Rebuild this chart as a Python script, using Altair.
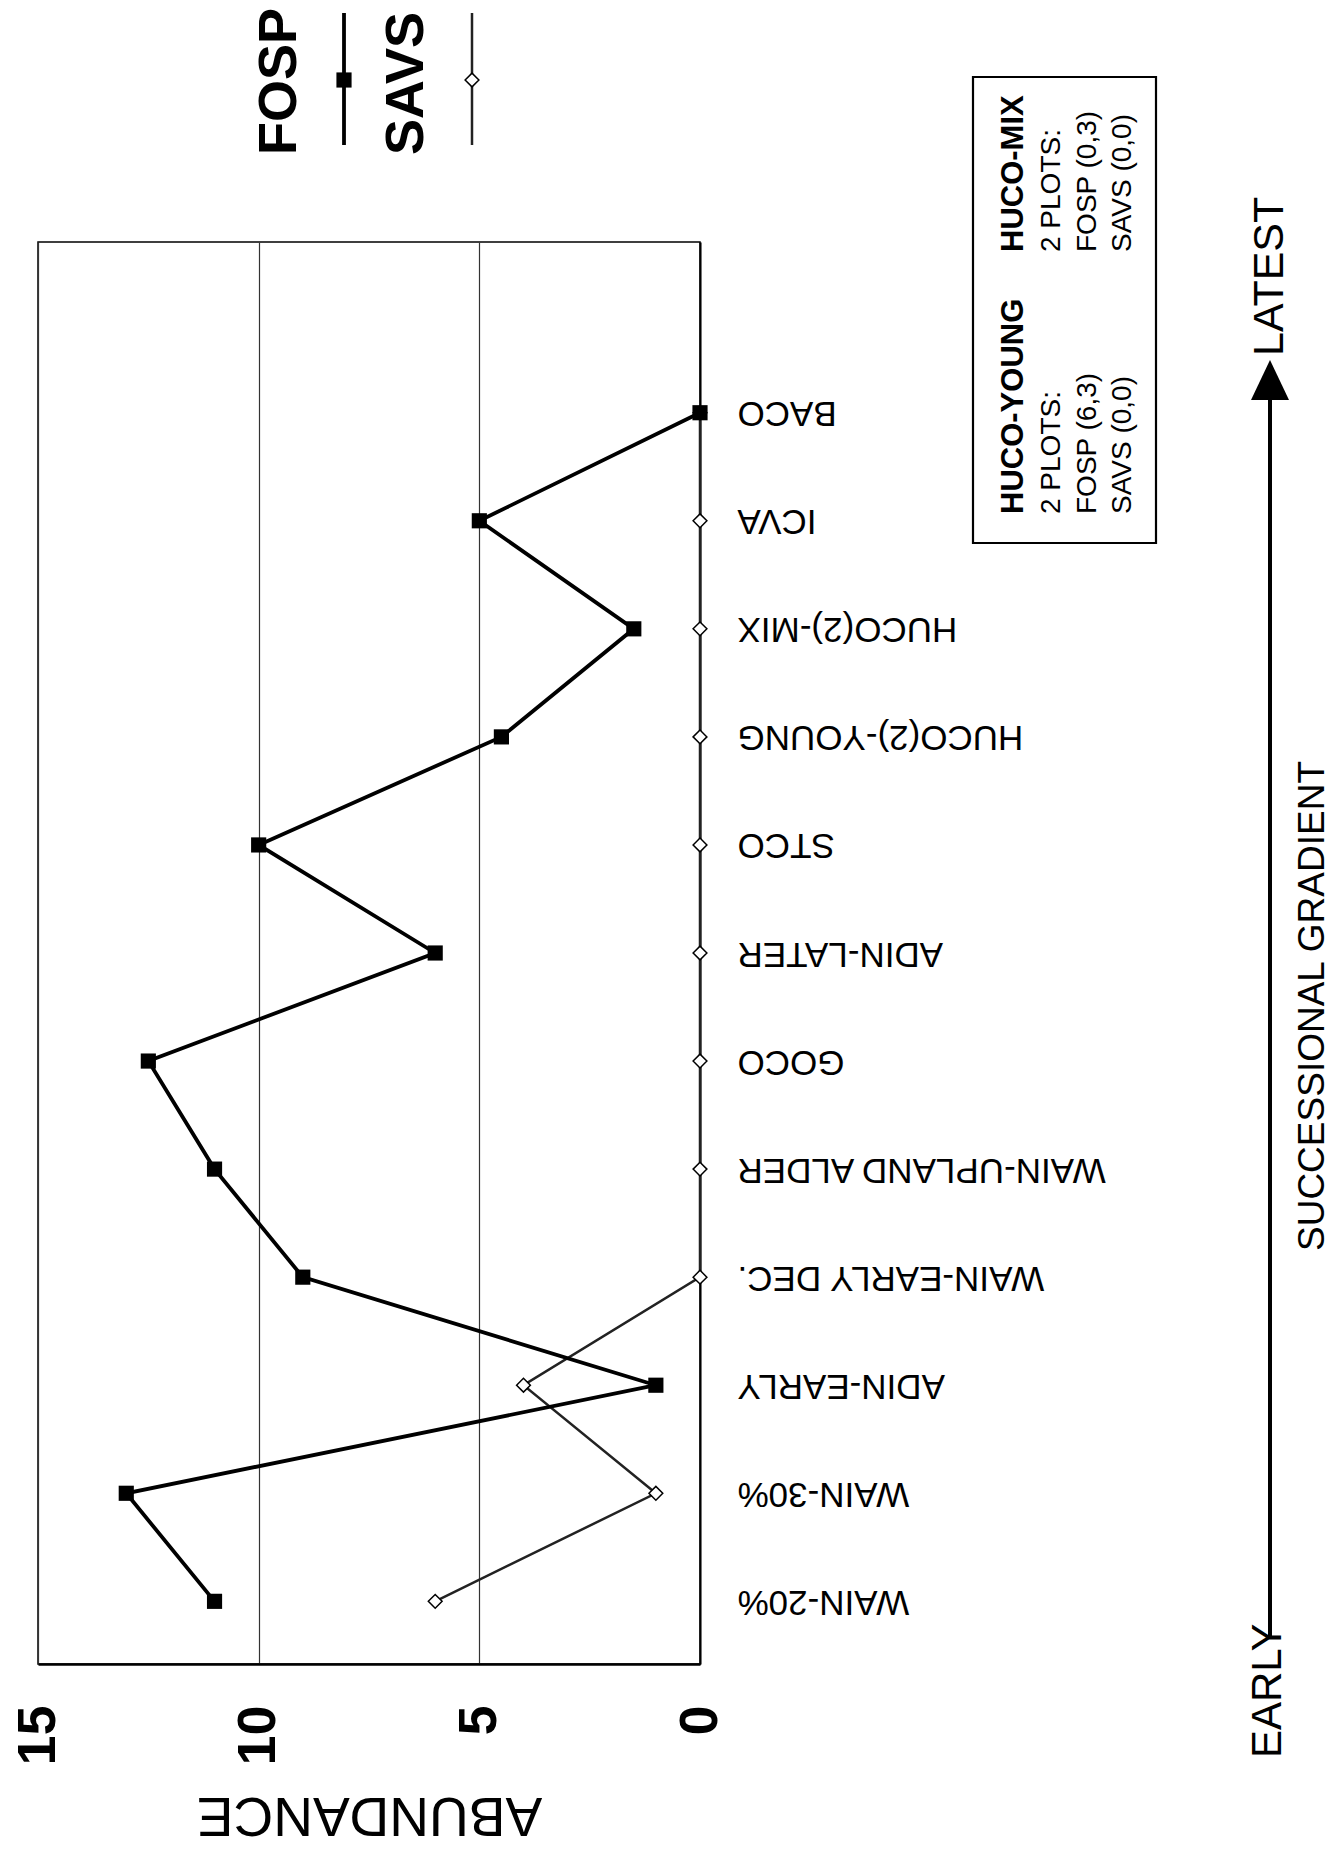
import altair as alt
import pandas as pd

# ---------------- data ----------------
categories = ["WAIN-20%", "WAIN-30%", "ADIN-EARLY", "WAIN-EARLY DEC.",
              "WAIN-UPLAND ALDER", "GOCO", "ADIN-LATER", "STCO",
              "HUCO(2)-YOUNG", "HUCO(2)-MIX", "ICVA", "BACO"]
fosp = [11, 13, 1, 9, 11, 12.5, 6, 10, 4.5, 1.5, 5, 0]
savs = [6, 1, 4, 0, 0, 0, 0, 0, 0, 0, 0, 0]
abundance_ticks = [0, 5, 10, 15]
box_young = ["HUCO-YOUNG", "2 PLOTS:", "FOSP (6,3)", "SAVS (0,0)"]
box_mix = ["HUCO-MIX", "2 PLOTS:", "FOSP (0,3)", "SAVS (0,0)"]

# ---------------- layout ----------------
W, H = 1339, 1850
PL, PT, PW, PH = 38, 242, 662, 1422
FONT = "Liberation Sans"
NARROW = "Liberation Sans Narrow, Liberation Sans, Arial"


def px(X):
    return X - PL


def py(Y):
    return Y - PT


one = alt.Data(values=[{"a": 1}])

df_f = pd.DataFrame({"site": categories, "abundance": fosp, "idx": list(range(len(categories)))})
df_s = pd.DataFrame({"site": categories, "abundance": savs, "idx": list(range(len(categories)))})

y_domain = [" "] + categories[::-1]

x_enc = alt.X(
    "abundance:Q",
    scale=alt.Scale(domain=[0, 15], reverse=True, nice=False, zero=True),
    axis=alt.Axis(
        orient="bottom", values=abundance_ticks, format="d",
        labelAngle=270, labelAlign="right", labelBaseline="middle",
        labelPadding=41, labelFontSize=54, labelFontWeight="bold",
        labelFont=FONT, labelColor="black", ticks=False,
        grid=True, gridColor="#333", gridWidth=1.2,
        domainColor="black", domainWidth=2.5,
        title="ABUNDANCE", titleAngle=180, titleFontSize=55,
        titleFontWeight="normal", titleFont=FONT, titleColor="black",
        titleX=PW / 2, titleY=133, titleAlign="center",
        titleBaseline="alphabetic",
    ),
)
y_enc = alt.Y(
    "site:N",
    scale=alt.Scale(type="point", domain=y_domain, padding=0.58),
    axis=alt.Axis(
        orient="right", labelAngle=180, labelAlign="right",
        labelBaseline="middle", labelPadding=37, labelFontSize=35,
        labelFont=FONT, labelColor="black", labelLimit=0, ticks=False,
        grid=False, domainColor="black", domainWidth=2, title=None,
        labelOverlap=False,
    ),
)

savs_line = alt.Chart(df_s).mark_line(color="#222", strokeWidth=2.5).encode(
    x=x_enc, y=y_enc, order="idx:Q")
savs_pts = alt.Chart(df_s).mark_point(
    shape="diamond", filled=True, fill="white", stroke="black",
    strokeWidth=1.5, size=190, opacity=1).encode(x=x_enc, y=y_enc)
fosp_line = alt.Chart(df_f).mark_line(color="black", strokeWidth=3.8).encode(
    x=x_enc, y=y_enc, order="idx:Q")
fosp_pts = alt.Chart(df_f).mark_point(
    shape="square", filled=True, color="black", size=230, opacity=1).encode(
    x=x_enc, y=y_enc)


def text(t, X, Y, size, bold=False, angle=270, align="left", font=FONT):
    return alt.Chart(one).mark_text(
        text=t, fontSize=size, fontWeight="bold" if bold else "normal",
        angle=angle, align=align, baseline="middle", font=font,
        color="black").encode(x=alt.value(px(X)), y=alt.value(py(Y)))


def vrule(X, Y1, Y2, width, color="black"):
    return alt.Chart(one).mark_rule(color=color, strokeWidth=width).encode(
        x=alt.value(px(X)), y=alt.value(py(Y1)), y2=alt.value(py(Y2)))


annots = []
# legend
annots.append(text("FOSP", 280, 155, 54, bold=True))
annots.append(vrule(344, 13, 145, 3.8))
annots.append(alt.Chart(one).mark_point(shape="square", filled=True, color="black",
                                        size=230, opacity=1).encode(
    x=alt.value(px(344)), y=alt.value(py(80))))
annots.append(text("SAVS", 407, 155, 54, bold=True))
annots.append(vrule(472, 13, 145, 2.5, color="#222"))
annots.append(alt.Chart(one).mark_point(shape="diamond", filled=True, fill="white",
                                        stroke="black", strokeWidth=1.5, size=190,
                                        opacity=1).encode(
    x=alt.value(px(472)), y=alt.value(py(80))))

# info box
annots.append(alt.Chart(one).mark_rect(fill="white", stroke="black", strokeWidth=2.2).encode(
    x=alt.value(px(973)), x2=alt.value(px(1156)),
    y=alt.value(py(77)), y2=alt.value(py(543))))
line_x = [1014, 1052, 1088, 1123]
for i, (a, b) in enumerate(zip(box_young, box_mix)):
    sz = 31 if i == 0 else 28
    annots.append(text(a, line_x[i], 514, sz, bold=(i == 0), font=NARROW))
    annots.append(text(b, line_x[i], 252, sz, bold=(i == 0), font=NARROW))

# successional gradient arrow
annots.append(vrule(1270, 1636, 395, 4))
annots.append(alt.Chart(one).mark_point(
    shape="M0,-1L0.95,1L-0.95,1Z", filled=True, color="black", size=1600,
    opacity=1).encode(x=alt.value(px(1270)), y=alt.value(py(380))))
annots.append(text("LATEST", 1270, 356, 43, font=NARROW))
annots.append(text("EARLY", 1268, 1758, 42, font=NARROW))
annots.append(text("SUCCESSIONAL GRADIENT", 1313, 1006, 37, align="center", font=NARROW))

chart = alt.layer(
    savs_line, fosp_line, savs_pts, fosp_pts, *annots
).properties(
    width=PW, height=PH,
    autosize=alt.AutoSizeParams(type="none"),
    padding={"left": PL, "top": PT, "right": W - PL - PW, "bottom": H - PT - PH},
    background="white",
).configure_view(stroke="black", strokeWidth=1.5)

chart.save("out.html", embed_options={"renderer": "svg", "actions": False})
